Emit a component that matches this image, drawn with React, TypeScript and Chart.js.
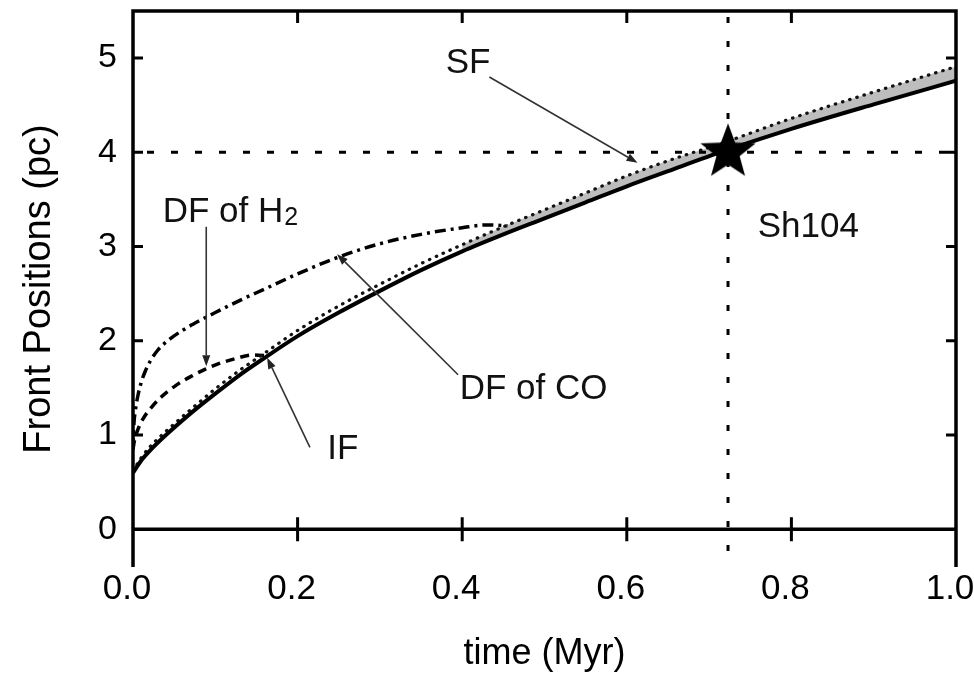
import React, { useEffect, useRef } from 'react';
import { Chart, registerables } from 'chart.js';

Chart.register(...registerables);

// ---- data ----
const timeFront = [0, 0.01, 0.02, 0.04, 0.07, 0.1, 0.13, 0.16, 0.2, 0.25, 0.3, 0.35, 0.4, 0.45, 0.5, 0.55, 0.6, 0.65, 0.72, 0.8, 0.9, 1.0];
const posIF = [0.60, 0.73, 0.83, 1.00, 1.23, 1.44, 1.64, 1.82, 2.05, 2.30, 2.53, 2.75, 2.95, 3.13, 3.30, 3.47, 3.64, 3.80, 4.02, 4.25, 4.51, 4.76];
const posSF = [0.62, 0.76, 0.87, 1.04, 1.27, 1.49, 1.69, 1.87, 2.11, 2.37, 2.60, 2.82, 3.02, 3.21, 3.39, 3.57, 3.75, 3.91, 4.11, 4.36, 4.64, 4.91];

const timeCO = [0, 0.001, 0.003, 0.006, 0.01, 0.015, 0.02, 0.03, 0.045, 0.06, 0.08, 0.1, 0.13, 0.16, 0.2, 0.25, 0.3, 0.35, 0.4, 0.43, 0.455];
const posCO = [0.85, 1.10, 1.27, 1.42, 1.56, 1.68, 1.77, 1.90, 2.02, 2.11, 2.21, 2.30, 2.43, 2.55, 2.71, 2.89, 3.03, 3.13, 3.20, 3.23, 3.22];

const timeH2 = [0, 0.002, 0.006, 0.012, 0.023, 0.035, 0.051, 0.07, 0.088, 0.105, 0.124, 0.145, 0.165];
const posH2 = [0.85, 0.95, 1.06, 1.17, 1.30, 1.41, 1.52, 1.62, 1.70, 1.76, 1.81, 1.85, 1.84];

const bandStart = 0.4;
const sh104Time = 0.723;
const sh104Pos = 4.0;

const xTickValues = [0, 0.2, 0.4, 0.6, 0.8, 1.0];
const yTickValues = [0, 1, 2, 3, 4, 5];
const xRange = [0, 1];
const yRange = [-0.4, 5.5];

const labelTexts = ['SF', 'DF of H', 'Sh104', 'DF of CO', 'IF'];
const labelAt = [
  [0.380, 4.94],
  [0.036, 3.36],
  [0.759, 3.20],
  [0.397, 1.48],
  [0.236, 0.85],
];
const arrowFrom = [
  [0.433, 4.80],
  [0.089, 3.21],
  [0.395, 1.64],
  [0.215, 0.87],
];
const arrowTo = [
  [0.613, 3.89],
  [0.089, 1.73],
  [0.248, 2.92],
  [0.163, 1.82],
];

const FONT = '"Liberation Sans", Arial, Helvetica, sans-serif';

function pts(xs: number[], ys: number[]) {
  return xs.map((x, i) => ({ x, y: ys[i] }));
}

function makeStar(R: number) {
  const size = Math.ceil(R * 2 + 4);
  const c = document.createElement('canvas');
  c.width = size;
  c.height = size;
  const g = c.getContext('2d')!;
  const cx = size / 2;
  const cy = size / 2;
  g.fillStyle = '#000';
  g.beginPath();
  for (let i = 0; i < 10; i++) {
    const r = i % 2 === 0 ? R : R * 0.42;
    const a = -Math.PI / 2 + (i * Math.PI) / 5;
    const px = cx + r * Math.cos(a);
    const py = cy + r * Math.sin(a);
    if (i === 0) g.moveTo(px, py);
    else g.lineTo(px, py);
  }
  g.closePath();
  g.fill();
  return c;
}

const framePlugin = {
  id: 'frameAndNotes',
  afterDatasetsDraw(chart: any) {
    const ctx = chart.ctx;
    const { left, right, top, bottom } = chart.chartArea;
    const xs = chart.scales.x;
    const ys = chart.scales.y;
    ctx.save();
    ctx.strokeStyle = '#000';
    ctx.lineCap = 'butt';
    ctx.lineJoin = 'miter';
    ctx.lineWidth = 3.5;
    ctx.beginPath();
    ctx.moveTo(left, bottom);
    ctx.lineTo(left, top);
    ctx.lineTo(right, top);
    ctx.lineTo(right, bottom);
    ctx.stroke();
    const y0 = ys.getPixelForValue(0);
    ctx.beginPath();
    ctx.moveTo(left, y0);
    ctx.lineTo(right, y0);
    ctx.stroke();
    ctx.lineWidth = 3;
    xTickValues.forEach((v) => {
      if (v === xRange[0] || v === xRange[1]) return;
      const x = xs.getPixelForValue(v);
      ctx.beginPath();
      ctx.moveTo(x, top);
      ctx.lineTo(x, top + 12);
      ctx.moveTo(x, y0 - 12);
      ctx.lineTo(x, y0 + 12);
      ctx.stroke();
    });
    yTickValues.forEach((v) => {
      if (v === 0) return;
      const y = ys.getPixelForValue(v);
      ctx.beginPath();
      ctx.moveTo(left, y);
      ctx.lineTo(left + 10, y);
      ctx.moveTo(right - 10, y);
      ctx.lineTo(right, y);
      ctx.stroke();
    });

    // arrows
    ctx.strokeStyle = '#333';
    ctx.fillStyle = '#222';
    ctx.lineWidth = 1.6;
    arrowFrom.forEach((f, i) => {
      const t = arrowTo[i];
      const x1 = xs.getPixelForValue(f[0]);
      const y1 = ys.getPixelForValue(f[1]);
      const x2 = xs.getPixelForValue(t[0]);
      const y2 = ys.getPixelForValue(t[1]);
      const ang = Math.atan2(y2 - y1, x2 - x1);
      const L = 11;
      const W = 4;
      const bx = x2 - L * Math.cos(ang);
      const by = y2 - L * Math.sin(ang);
      ctx.beginPath();
      ctx.moveTo(x1, y1);
      ctx.lineTo(bx, by);
      ctx.stroke();
      ctx.beginPath();
      ctx.moveTo(x2, y2);
      ctx.lineTo(bx + W * Math.sin(ang), by - W * Math.cos(ang));
      ctx.lineTo(bx - W * Math.sin(ang), by + W * Math.cos(ang));
      ctx.closePath();
      ctx.fill();
    });

    // labels
    ctx.fillStyle = '#111';
    ctx.textBaseline = 'middle';
    ctx.textAlign = 'left';
    labelTexts.forEach((txt, i) => {
      const x = xs.getPixelForValue(labelAt[i][0]);
      const y = ys.getPixelForValue(labelAt[i][1]);
      ctx.font = `35px ${FONT}`;
      ctx.fillText(txt, x, y);
      if (i === 1) {
        const w = ctx.measureText(txt).width;
        ctx.font = `25px ${FONT}`;
        ctx.fillText('2', x + w + 1, y + 5);
      }
    });
    ctx.restore();
  },
};

export default function App() {
  const ref = useRef<HTMLCanvasElement | null>(null);
  useEffect(() => {
    if (!ref.current) return;
    const star = makeStar(29);
    const bandUpper = pts(timeFront, posSF).filter((p) => p.x >= bandStart);
    const bandLower = pts(timeFront, posIF).filter((p) => p.x >= bandStart);
    const chart = new Chart(ref.current, {
      type: 'line',
      data: {
        datasets: [
          {
            label: 'Sh104',
            data: [{ x: sh104Time, y: sh104Pos }],
            showLine: false,
            pointStyle: star as any,
            pointRadius: 29,
            borderWidth: 0,
          },
          {
            label: 'IF',
            data: pts(timeFront, posIF),
            borderColor: '#000',
            borderWidth: 4,
            cubicInterpolationMode: 'monotone',
            pointRadius: 0,
            fill: false,
          },
          {
            label: 'SF',
            data: pts(timeFront, posSF),
            borderColor: '#111',
            borderWidth: 3.2,
            borderDash: [0.5, 7],
            borderCapStyle: 'round',
            cubicInterpolationMode: 'monotone',
            pointRadius: 0,
            fill: false,
          },
          {
            label: 'DF of CO',
            data: pts(timeCO, posCO),
            borderColor: '#000',
            borderWidth: 3.5,
            borderDash: [11, 5, 3, 5],
            cubicInterpolationMode: 'monotone',
            pointRadius: 0,
            fill: false,
          },
          {
            label: 'DF of H2',
            data: pts(timeH2, posH2),
            borderColor: '#000',
            borderWidth: 3.5,
            borderDash: [9, 6],
            cubicInterpolationMode: 'monotone',
            pointRadius: 0,
            fill: false,
          },
          {
            label: 'band',
            data: bandUpper,
            borderWidth: 0,
            borderColor: 'rgba(0,0,0,0)',
            backgroundColor: '#bdbdbd',
            cubicInterpolationMode: 'monotone',
            pointRadius: 0,
            fill: '+1',
          },
          {
            label: 'bandLow',
            data: bandLower,
            borderWidth: 0,
            borderColor: 'rgba(0,0,0,0)',
            cubicInterpolationMode: 'monotone',
            pointRadius: 0,
            fill: false,
          },
          {
            label: 'h',
            data: [{ x: xRange[0], y: sh104Pos }, { x: xRange[1], y: sh104Pos }],
            borderColor: '#000',
            borderWidth: 3,
            borderDash: [7, 17],
            borderDashOffset: -14,
            pointRadius: 0,
            fill: false,
          },
          {
            label: 'v',
            data: [{ x: sh104Time, y: yRange[1] }, { x: sh104Time, y: yRange[0] }],
            borderColor: '#000',
            borderWidth: 3,
            borderDash: [6, 18],
            borderDashOffset: -6,
            pointRadius: 0,
            fill: false,
          },
        ],
      },
      options: {
        animation: false,
        responsive: false,
        layout: { autoPadding: false, padding: { left: 0, top: 11, right: 18, bottom: 0 } },
        plugins: {
          legend: { display: false },
          tooltip: { enabled: false },
          filler: { propagate: false, drawTime: 'beforeDatasetsDraw' } as any,
        },
        scales: {
          x: {
            type: 'linear',
            min: xRange[0],
            max: xRange[1],
            afterBuildTicks: (s: any) => {
              s.ticks = xTickValues.map((v) => ({ value: v }));
            },
            afterFit: (s: any) => {
              s.height = 110;
              s.paddingLeft = 0;
              s.paddingRight = 0;
            },
            grid: { display: false, drawTicks: false },
            border: { display: false },
            ticks: {
              color: '#000',
              font: { family: FONT, size: 35 },
              padding: 1,
              labelOffset: -6,
              maxRotation: 0,
              autoSkip: false,
              callback: (v: any) => Number(v).toFixed(1),
            },
            title: {
              display: true,
              text: 'time (Myr)',
              color: '#000',
              font: { family: FONT, size: 36 },
              padding: { top: 0, bottom: 1 },
            },
          },
          y: {
            type: 'linear',
            min: yRange[0],
            max: yRange[1],
            afterBuildTicks: (s: any) => {
              s.ticks = yTickValues.map((v) => ({ value: v }));
            },
            afterFit: (s: any) => {
              s.width = 133;
              s.paddingTop = 0;
              s.paddingBottom = 0;
            },
            grid: { display: false, drawTicks: false },
            border: { display: false },
            ticks: {
              color: '#000',
              font: { family: FONT, size: 34 },
              padding: 16,
              callback: (v: any) => String(v),
            },
            title: {
              display: true,
              text: 'Front Positions (pc)',
              color: '#000',
              font: { family: FONT, size: 38 },
              padding: { top: 17 },
            },
          },
        },
      },
      plugins: [framePlugin],
    });
    return () => chart.destroy();
  }, []);
  return (
    <div style={{ position: 'fixed', left: 0, top: 0, width: 974, height: 677, background: '#fff' }}>
      <canvas ref={ref} width={974} height={677} style={{ display: 'block' }} />
    </div>
  );
}
